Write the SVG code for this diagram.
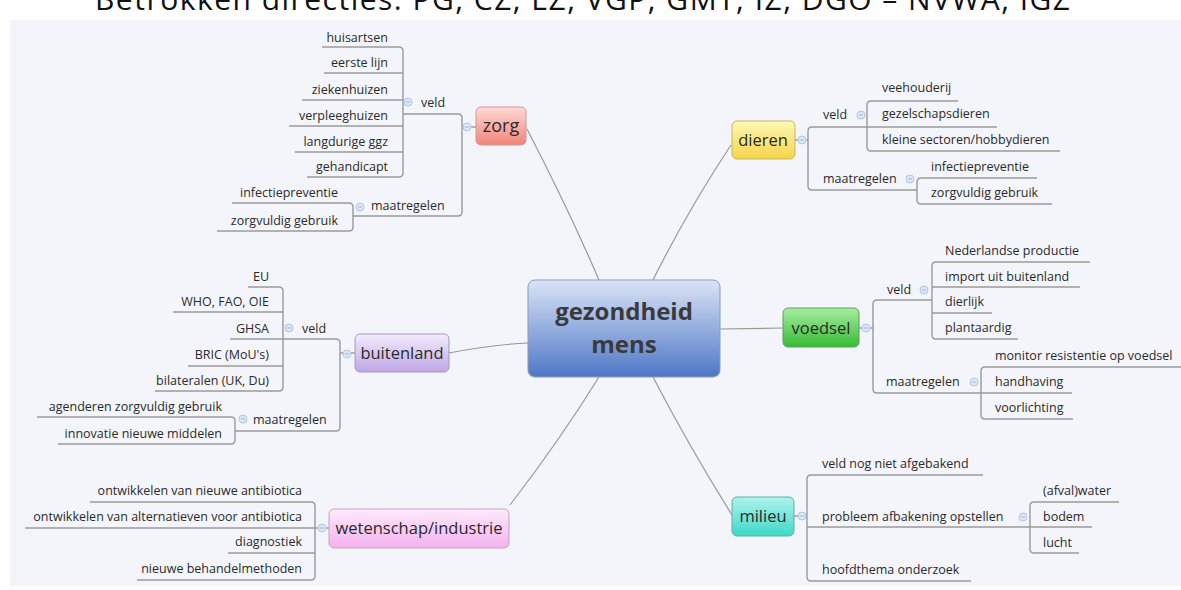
<svg xmlns="http://www.w3.org/2000/svg" width="1181" height="590" viewBox="0 0 1181 590">
<defs>
<style>
.t{font-family:"Open Sans","Noto Sans","Liberation Sans",sans-serif;font-size:12.5px;fill:#2a2a2a}
.e{text-anchor:end}
.n{font-family:"Open Sans","Noto Sans","Liberation Sans",sans-serif;font-size:16.5px;fill:#2a2a2a;text-anchor:middle}
.ln{fill:none;stroke:#9a9a9a;stroke-width:1.4}
.cn{fill:none;stroke:#999;stroke-width:1.2}
.ic{fill:#dde7f6;stroke:#b0c6e6;stroke-width:1}
.icm{stroke:#9fb6da;stroke-width:1}
</style>
<linearGradient id="gc" x1="0" y1="0" x2="0" y2="1"><stop offset="0" stop-color="#dbe4f6"/><stop offset="1" stop-color="#4f77c6"/></linearGradient>
<linearGradient id="gz" x1="0" y1="0" x2="0" y2="1"><stop offset="0" stop-color="#ffd9d5"/><stop offset="1" stop-color="#f08479"/></linearGradient>
<linearGradient id="gd" x1="0" y1="0" x2="0" y2="1"><stop offset="0" stop-color="#fff8b8"/><stop offset="1" stop-color="#f4d548"/></linearGradient>
<linearGradient id="gb" x1="0" y1="0" x2="0" y2="1"><stop offset="0" stop-color="#f3ecfc"/><stop offset="1" stop-color="#bfa6e6"/></linearGradient>
<linearGradient id="gv" x1="0" y1="0" x2="0" y2="1"><stop offset="0" stop-color="#a8eca2"/><stop offset="1" stop-color="#36bb34"/></linearGradient>
<linearGradient id="gw" x1="0" y1="0" x2="0" y2="1"><stop offset="0" stop-color="#fdeafc"/><stop offset="1" stop-color="#f4b2ee"/></linearGradient>
<linearGradient id="gm" x1="0" y1="0" x2="0" y2="1"><stop offset="0" stop-color="#aef3ec"/><stop offset="1" stop-color="#3fd8c6"/></linearGradient>
<g id="icon"><circle class="ic" r="4"/><line class="icm" x1="-2" y1="0" x2="2" y2="0"/></g>
</defs>
<rect width="1181" height="590" fill="#ffffff"/>
<rect x="10" y="20" width="1171" height="566" fill="#f4f5fb"/>
<text x="95" y="10" font-family="'Open Sans','Noto Sans',sans-serif" font-size="30" fill="#111" textLength="975">Betrokken directies: PG, CZ, LZ, VGP, GMT, IZ, DGO – NVWA, IGZ</text>

<g id="connectors">
<path class="cn" d="M527,129 Q568,208 599,280"/>
<path class="cn" d="M731,145 Q688,210 653,280"/>
<path class="cn" d="M449,353 Q490,345 528,343"/>
<path class="cn" d="M720,329 L783,328"/>
<path class="cn" d="M599,377 Q560,440 510,505"/>
<path class="cn" d="M653,377 Q690,448 732,515"/>
</g>

<g id="center">
<rect x="528" y="280" width="192" height="97" rx="7" fill="url(#gc)" stroke="#8c9bbd" stroke-width="1"/>
<text x="624" y="320" class="n" style="font-size:24px;font-weight:bold;fill:#3a3a3a">gezondheid</text>
<text x="624" y="353" class="n" style="font-size:24px;font-weight:bold;fill:#3a3a3a">mens</text>
</g>

<g id="zorg">
<path class="ln" d="M462,127 H476"/>
<rect x="476" y="107" width="50" height="38" rx="5" fill="url(#gz)" stroke="#c99" stroke-width="1"/>
<text x="501" y="132" class="n" style="font-size:18px">zorg</text>
<path class="ln" d="M322,47 H399 Q403,47 403,51 V173 Q403,177 399,177 H307"/>
<path class="ln" d="M324,73 H403 M302,100 H403 M289,126 H403 M295,152 H403"/>
<path class="ln" d="M403,114 H458 Q462,114 462,118 V212 Q462,216 458,216 H353"/>
<path class="ln" d="M232,203 H349 Q353,203 353,207 V227 Q353,231 349,231 H217"/>
<text class="t e" x="388" y="42">huisartsen</text>
<text class="t e" x="388" y="67">eerste lijn</text>
<text class="t e" x="388" y="94">ziekenhuizen</text>
<text class="t e" x="388" y="120">verpleeghuizen</text>
<text class="t e" x="388" y="146">langdurige ggz</text>
<text class="t e" x="388" y="171">gehandicapt</text>
<text class="t" x="421" y="107">veld</text>
<text class="t" x="371" y="210">maatregelen</text>
<text class="t e" x="338" y="197">infectiepreventie</text>
<text class="t e" x="338" y="225">zorgvuldig gebruik</text>
<use href="#icon" x="467" y="127"/>
<use href="#icon" x="408" y="102"/>
<use href="#icon" x="360" y="207"/>
</g>

<g id="dieren">
<path class="ln" d="M795,140 H808"/>
<rect x="732" y="121" width="63" height="38" rx="5" fill="url(#gd)" stroke="#c8b466" stroke-width="1"/>
<text x="763" y="146" class="n">dieren</text>
<path class="ln" d="M867,127 H812 Q808,127 808,131 V186 Q808,190 812,190 H917"/>
<path class="ln" d="M958,101 H871 Q867,101 867,105 V147 Q867,151 871,151 H1060 M867,127 H997"/>
<path class="ln" d="M1037,178 H921 Q917,178 917,182 V200 Q917,204 921,204 H1052"/>
<text class="t" x="823" y="119">veld</text>
<text class="t" x="823" y="183">maatregelen</text>
<text class="t" x="882" y="92">veehouderij</text>
<text class="t" x="882" y="118">gezelschapsdieren</text>
<text class="t" x="882" y="144">kleine sectoren/hobbydieren</text>
<text class="t" x="931" y="171">infectiepreventie</text>
<text class="t" x="931" y="197">zorgvuldig gebruik</text>
<use href="#icon" x="802" y="140"/>
<use href="#icon" x="861" y="115"/>
<use href="#icon" x="910" y="179"/>
</g>

<g id="buitenland">
<path class="ln" d="M340,353 H355"/>
<rect x="355" y="334" width="94" height="38" rx="5" fill="url(#gb)" stroke="#a496c4" stroke-width="1"/>
<text x="402" y="359" class="n">buitenland</text>
<path class="ln" d="M230,339 H336 Q340,339 340,343 V427 Q340,431 336,431 H235"/>
<path class="ln" d="M248,287 H279 Q283,287 283,291 V387 Q283,391 279,391 H155 M173,312 H283 M188,366 H283"/>
<path class="ln" d="M37,417 H231 Q235,417 235,421 V440 Q235,444 231,444 H58"/>
<text class="t" x="302" y="333">veld</text>
<text class="t" x="253" y="424">maatregelen</text>
<text class="t e" x="269" y="281">EU</text>
<text class="t e" x="269" y="306">WHO, FAO, OIE</text>
<text class="t e" x="269" y="333">GHSA</text>
<text class="t e" x="269" y="359">BRIC (MoU's)</text>
<text class="t e" x="269" y="385">bilateralen (UK, Du)</text>
<text class="t e" x="222" y="411">agenderen zorgvuldig gebruik</text>
<text class="t e" x="222" y="438">innovatie nieuwe middelen</text>
<use href="#icon" x="347" y="354"/>
<use href="#icon" x="289" y="328"/>
<use href="#icon" x="243" y="419"/>
</g>

<g id="voedsel">
<path class="ln" d="M859,328 H873"/>
<rect x="783" y="308" width="76" height="39" rx="5" fill="url(#gv)" stroke="#5fa05f" stroke-width="1"/>
<text x="821" y="334" class="n">voedsel</text>
<path class="ln" d="M932,300 H877 Q873,300 873,304 V389 Q873,393 877,393 H981"/>
<path class="ln" d="M1090,262 H936 Q932,262 932,266 V335 Q932,339 936,339 H1018 M932,287 H1080 M932,313 H992"/>
<path class="ln" d="M1181,367 H985 Q981,367 981,371 V415 Q981,419 985,419 H1073 M981,393 H1072"/>
<text class="t" x="887" y="294">veld</text>
<text class="t" x="886" y="386">maatregelen</text>
<text class="t" x="945" y="255">Nederlandse productie</text>
<text class="t" x="945" y="281">import uit buitenland</text>
<text class="t" x="945" y="306">dierlijk</text>
<text class="t" x="945" y="332">plantaardig</text>
<text class="t" x="995" y="360">monitor resistentie op voedsel</text>
<text class="t" x="995" y="386">handhaving</text>
<text class="t" x="995" y="412">voorlichting</text>
<use href="#icon" x="866" y="328"/>
<use href="#icon" x="924" y="290"/>
<use href="#icon" x="974" y="382"/>
</g>

<g id="wetenschap">
<path class="ln" d="M315,528 H329"/>
<rect x="329" y="509" width="180" height="39" rx="5" fill="url(#gw)" stroke="#c4a2c2" stroke-width="1"/>
<text x="419" y="534" class="n">wetenschap/industrie</text>
<path class="ln" d="M90,502 H311 Q315,502 315,506 V576 Q315,580 311,580 H137 M25,528 H315 M228,553 H315"/>
<text class="t e" x="302" y="495">ontwikkelen van nieuwe antibiotica</text>
<text class="t e" x="302" y="521">ontwikkelen van alternatieven voor antibiotica</text>
<text class="t e" x="302" y="546">diagnostiek</text>
<text class="t e" x="302" y="573">nieuwe behandelmethoden</text>
<use href="#icon" x="322" y="528"/>
</g>

<g id="milieu">
<path class="ln" d="M794,516 H807"/>
<rect x="732" y="497" width="62" height="39" rx="5" fill="url(#gm)" stroke="#5fb0a6" stroke-width="1"/>
<text x="763" y="522" class="n">milieu</text>
<path class="ln" d="M983,475 H811 Q807,475 807,479 V577 Q807,581 811,581 H971 M807,527 H1030"/>
<path class="ln" d="M1119,502 H1034 Q1030,502 1030,506 V549 Q1030,553 1034,553 H1079 M1030,527 H1092"/>
<text class="t" x="822" y="468">veld nog niet afgebakend</text>
<text class="t" x="822" y="521">probleem afbakening opstellen</text>
<text class="t" x="822" y="574">hoofdthema onderzoek</text>
<text class="t" x="1043" y="495">(afval)water</text>
<text class="t" x="1043" y="521">bodem</text>
<text class="t" x="1043" y="547">lucht</text>
<use href="#icon" x="802" y="516"/>
<use href="#icon" x="1023" y="517"/>
</g>
</svg>
